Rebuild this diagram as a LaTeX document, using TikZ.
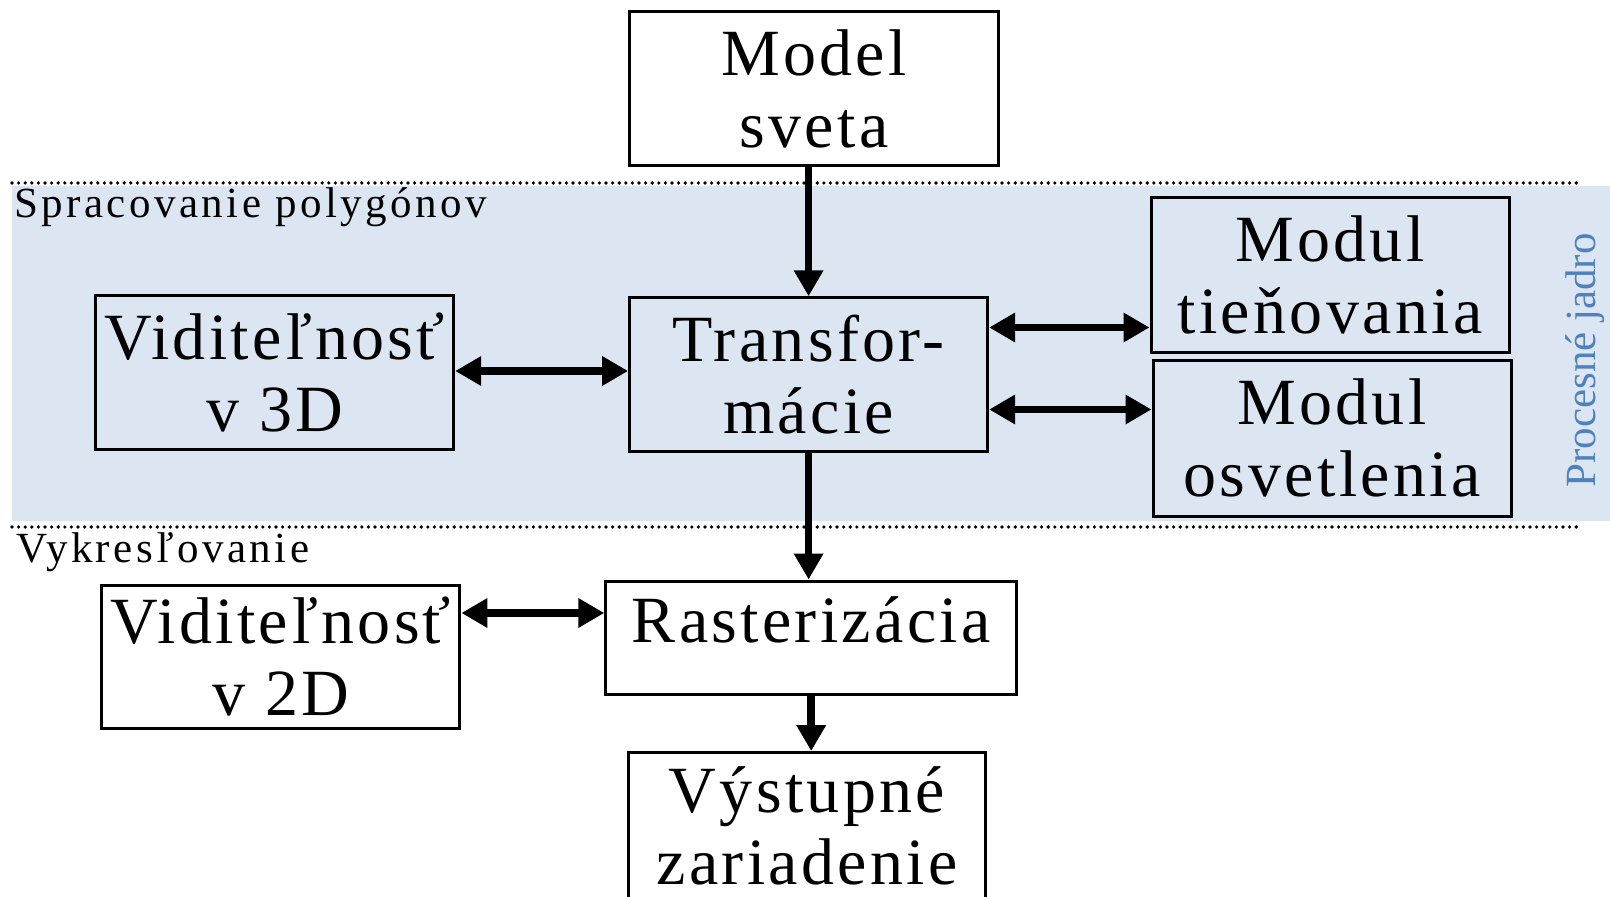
\documentclass[tikz,border=0pt]{standalone}
\usepackage{fontspec}
\setmainfont{Liberation Serif}
\newfontfamily\boxfont[LetterSpace=5]{Liberation Serif}
\newfontfamily\zonefont[LetterSpace=8]{Liberation Serif}
\usetikzlibrary{arrows.meta}
\definecolor{band}{RGB}{220,230,242}
\definecolor{corecol}{RGB}{79,129,189}
% fixed line height/depth so two-line boxes centre the same way
\newcommand\ls{\rule[-5pt]{0pt}{32.5pt}}

\begin{document}
\begin{tikzpicture}[x=0.5pt,y=-0.5pt,
  block/.style={draw, line width=1.5pt, inner sep=0pt, align=center,
    minimum width=179pt, minimum height=77pt,
    font=\boxfont\fontsize{33}{36}\selectfont},
  tip/.tip={Triangle[length=13pt,width=14pt]},
  link/.style={line width=3.8pt, tip-tip},
  flow/.style={line width=3.8pt, -tip},
  zone/.style={line width=1.8pt, line cap=round, dash pattern=on 0pt off 3.3pt},
  zonelabel/.style={anchor=base west, inner sep=0pt,
    font=\zonefont\fontsize{21.5}{24}\selectfont}]

\useasboundingbox (0,0) rectangle (1610,897);

% processing core band and stage separators
\fill[band] (12,186) rectangle (1610,521);
\draw[zone] (12,183) -- (1578,183);
\draw[zone] (12,527) -- (1578,527);

\node[zonelabel] (polylab) at (14,218) {Spracovanie polygónov};
\node[zonelabel] (drawlab) at (16,562) {Vykresľovanie};
\node[rotate=90, anchor=base west, inner sep=0pt, text=corecol,
  font=\fontsize{21.5}{24}\selectfont] (core) at (1595,488) {Procesné jadro};

% blocks
\node[block, minimum width=184.8pt] (model) at (814,89) {Model\ls\\sveta\ls};
\node[block] (trans) at (808.6,374.8) {Transfor-\ls\\mácie\ls};
\node[block] (vis3d) at (274.7,372.7) {Viditeľnosť\ls\\v 3D\ls};
\node[block, minimum height=77.5pt] (tien) at (1330,275.5) {Modul\ls\\tieňovania\ls};
\node[block, minimum height=78pt] (osv) at (1332,438.3) {Modul\ls\\osvetlenia\ls};
\node[block, minimum width=205.4pt, minimum height=56.5pt,
  text height=25pt, text depth=20.5pt] (rast) at (811.2,637.5) {Rasterizácia};
\node[block, minimum height=71.5pt] (vis2d) at (280.9,656.5) {Viditeľnosť\ls\\v 2D\ls};
\node[block, minimum width=178.7pt, minimum height=73.2pt] (out) at (807,825.8) {Výstupné\ls\\zariadenie\ls};

% connector heights
\coordinate (y3d) at (0,371);
\coordinate (ytien) at (0,327.5);
\coordinate (yosv) at (0,409.5);
\coordinate (y2d) at (0,613);

% connectors
\draw[flow] (model.south -| trans.north) -- (trans.north);
\draw[flow] (trans.south) -- (rast.north -| trans.south);
\draw[flow] (rast.south) -- (out.north -| rast.south);
\draw[link] (vis3d.east |- y3d) -- (trans.west |- y3d);
\draw[link] (trans.east |- ytien) -- (tien.west |- ytien);
\draw[link] (trans.east |- yosv) -- (osv.west |- yosv);
\draw[link] (vis2d.east |- y2d) -- (rast.west |- y2d);
\end{tikzpicture}
\end{document}
